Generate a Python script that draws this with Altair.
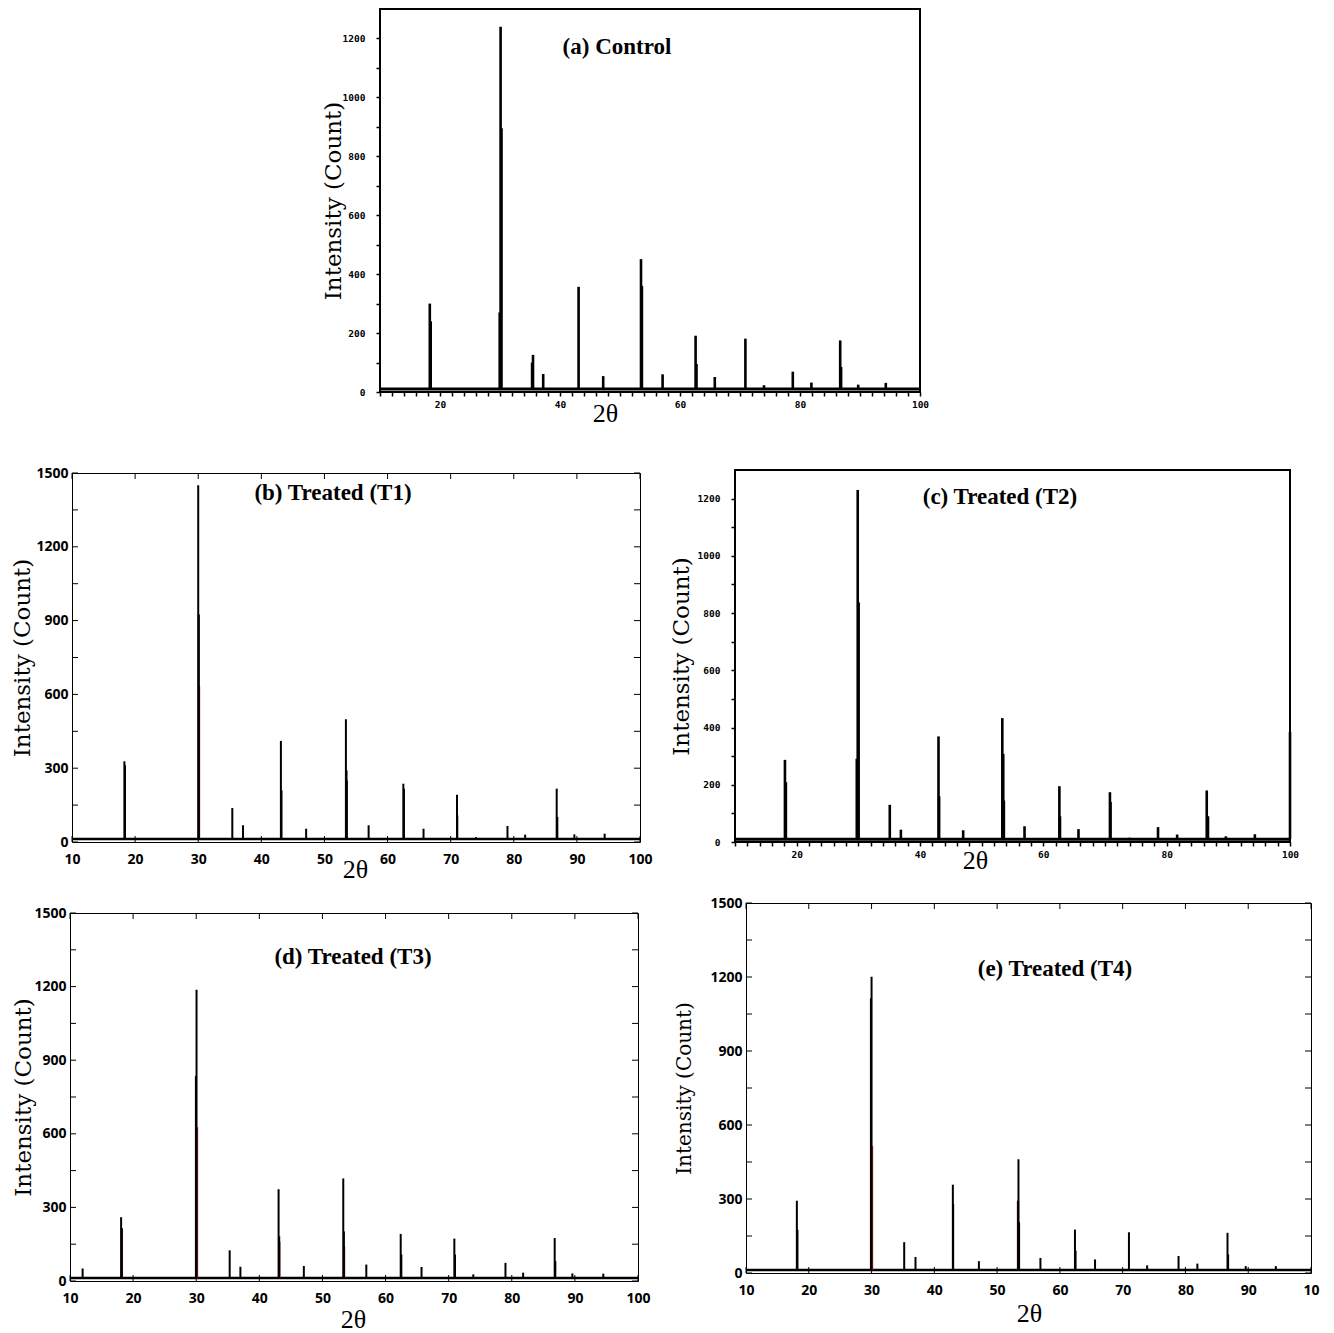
import altair as alt
import pandas as pd

SERIF = "Liberation Serif"
YSERIF = "DejaVu Serif"
SANS = "Open Sans"
MONO = "DejaVu Sans Mono"

TITLES = ["(a) Control", "(b) Treated (T1)", "(c) Treated (T2)", "(d) Treated (T3)", "(e) Treated (T4)"]
X_TITLE = "2θ"
Y_TITLE = "Intensity (Count)"

# ---------- (a) Control ----------
A_POS = [18.3, 30.1, 35.5, 37.2, 43.1, 47.2, 53.5, 57.1, 62.6, 65.8, 70.9, 74.0, 78.8, 81.9, 86.7, 89.7, 94.3]
A_INT = [300, 1240, 126, 61, 357, 54, 451, 60, 191, 51, 181, 23, 69, 32, 175, 25, 31]
A_POS2 = [18.45, 29.95, 30.25, 35.35, 53.65, 62.75, 86.85]
A_INT2 = [240, 270, 895, 100, 360, 95, 85]
A_BASE = 10

# ---------- (b) Treated T1 ----------
B_POS = [18.3, 30.0, 35.4, 37.1, 43.1, 47.1, 53.4, 57.0, 62.5, 65.7, 71.0, 74.0, 79.0, 81.8, 86.8, 89.6, 94.4]
B_INT = [328, 1450, 138, 68, 411, 54, 499, 68, 237, 54, 192, 20, 65, 30, 217, 31, 34]
B_POS2 = [18.4, 30.1, 43.2, 53.5, 53.55, 62.6, 71.05, 86.9]
B_INT2 = [312, 925, 210, 291, 250, 217, 108, 102]
B_RPOS = [30.15]
B_RINT = [633]
B_BASE = 12

# ---------- (c) Treated T2 ----------
C_POS = [18.1, 29.9, 35.1, 36.9, 43.0, 47.0, 53.35, 56.95, 62.6, 65.7, 70.8, 74.0, 78.6, 81.7, 86.5, 89.6, 94.3, 100.0]
C_INT = [287, 1230, 130, 43, 369, 41, 433, 55, 195, 45, 174, 15, 52, 26, 180, 20, 27, 384]
C_POS2 = [18.25, 29.75, 30.05, 43.1, 53.5, 53.6, 62.7, 70.9, 86.7]
C_INT2 = [209, 291, 837, 160, 308, 145, 90, 140, 90]
C_BASE = 10

# ---------- (d) Treated T3 ----------
D_POS = [12.0, 18.1, 30.05, 35.3, 37.0, 43.05, 47.05, 53.3, 56.95, 62.4, 65.7, 70.9, 73.9, 79.0, 81.8, 86.8, 89.6, 94.5]
D_INT = [51, 260, 1187, 125, 58, 374, 61, 418, 67, 192, 57, 173, 27, 74, 34, 175, 31, 30]
D_POS2 = [18.2, 29.95, 43.15, 53.4, 62.5, 71.0, 86.9]
D_INT2 = [216, 836, 182, 202, 108, 108, 81]
D_RPOS = [18.25, 30.15, 43.2, 53.45]
D_RINT = [210, 627, 160, 142]
D_BASE = 12

# ---------- (e) Treated T4 ----------
E_POS = [18.1, 30.0, 35.2, 37.0, 42.95, 47.1, 53.4, 56.9, 62.4, 65.6, 71.0, 73.9, 78.9, 81.9, 86.7, 89.6, 94.4]
E_INT = [293, 1201, 125, 65, 358, 48, 461, 61, 176, 55, 165, 31, 69, 38, 163, 28, 28]
E_POS2 = [29.9, 43.0, 53.35, 53.5, 18.2, 62.5, 86.8]
E_INT2 = [1114, 280, 293, 206, 175, 91, 75]
E_RPOS = [30.1, 53.3]
E_RINT = [515, 290]
E_BASE = 12

TICKS_X = list(range(10, 101, 10))
TICKS_Y = list(range(0, 1501, 150))

RED = "#b5342b"


def rules_df(pos, ints, base):
    return pd.DataFrame({"t": pos, "i": ints, "b": [base] * len(pos)})


def spacer(w, h):
    return alt.Chart(pd.DataFrame({"t": [0]})).mark_point(size=1, opacity=0).encode(
        x=alt.value(0), y=alt.value(0)).properties(width=w, height=h)


def panel(style, pos, ints, pos2, ints2, rpos, rints, base, ymax, W, H,
          title, tpos, xt, ytx, ytsize=23, last_label=None):
    xs = alt.Scale(domain=[10, 100], nice=False, zero=False)
    ys = alt.Scale(domain=[0, ymax], nice=False)
    common_x = dict(grid=False, domain=False, labelColor="black", labelOverlap=False,
                    labelFlush=False,
                    title=X_TITLE, titleFont=SERIF, titleFontSize=26, titleFontWeight="normal",
                    titleColor="black", titleX=xt[0], titleY=xt[1], titleBaseline="middle",
                    format="d")
    common_y = dict(grid=False, domain=False, labelColor="black", labelOverlap=False,
                    labelFlush=False,
                    title=Y_TITLE, titleFont=YSERIF, titleFontSize=ytsize, titleFontWeight="normal",
                    titleColor="black", titleX=ytx, titleBaseline="middle", format="d")
    if style == "a":
        xaxis = alt.Axis(values=list(range(10, 101, 2)),
                         labelExpr="datum.value % 20 == 0 && datum.value > 10 ? datum.label : ''",
                         tickSize=4, tickColor="black", tickWidth=1.5,
                         labelFont=MONO, labelFontWeight="bold", labelFontSize=9.5, labelPadding=3,
                         **common_x)
        yaxis = alt.Axis(values=list(range(0, 1201, 100)),
                         labelExpr="datum.value % 200 == 0 ? datum.label : ''",
                         tickSize=4, tickColor="black", tickWidth=1.5,
                         labelFont=MONO, labelFontWeight="bold", labelFontSize=9.5, labelPadding=11,
                         **common_y)
        lw, bw, fw = 2.6, 3.0, 2.0
    else:
        lab = "datum.label"
        if last_label:
            lab = "datum.value == 100 ? '" + last_label + "' : datum.label"
        xaxis = alt.Axis(values=TICKS_X, ticks=False, labelExpr=lab,
                         labelFont=SANS, labelFontWeight="bold", labelFontSize=14, labelPadding=10,
                         **common_x)
        yaxis = alt.Axis(values=list(range(0, ymax + 1, 300)), ticks=False,
                         labelFont=SANS, labelFontWeight="bold", labelFontSize=14, labelPadding=4,
                         **common_y)
        lw, bw, fw = 2.0, 2.4, 1.0

    X = alt.X("t:Q", scale=xs, axis=xaxis)
    Y = alt.Y("i:Q", scale=ys, axis=yaxis)

    layers = []
    layers.append(alt.Chart(pd.DataFrame({"t": [10, 100], "i": [base, base]})).mark_line(
        color="black", strokeWidth=bw).encode(x=X, y=Y))
    if rpos:
        layers.append(alt.Chart(rules_df(rpos, rints, base)).mark_rule(
            color=RED, strokeWidth=lw).encode(x=X, y=Y, y2="b:Q"))
    layers.append(alt.Chart(rules_df(pos, ints, base)).mark_rule(
        color="black", strokeWidth=lw).encode(x=X, y=Y, y2="b:Q"))
    layers.append(alt.Chart(rules_df(pos2, ints2, base)).mark_rule(
        color="black", strokeWidth=lw).encode(x=X, y=Y, y2="b:Q"))
    if style == "b":
        tx = pd.DataFrame({"t": TICKS_X})
        ty = pd.DataFrame({"i": [v for v in TICKS_Y if v <= ymax]})
        layers.append(alt.Chart(tx).mark_rule(color="black", strokeWidth=1).encode(
            x=X, y=alt.value(0), y2=alt.value(6)))
        layers.append(alt.Chart(tx).mark_rule(color="black", strokeWidth=1).encode(
            x=X, y=alt.value(H), y2=alt.value(H - 6)))
        layers.append(alt.Chart(ty).mark_rule(color="black", strokeWidth=1).encode(
            y=Y, x=alt.value(0), x2=alt.value(6)))
        layers.append(alt.Chart(ty).mark_rule(color="black", strokeWidth=1).encode(
            y=Y, x=alt.value(W), x2=alt.value(W - 6)))
    layers.append(alt.Chart(pd.DataFrame({"s": [title]})).mark_text(
        font=SERIF, fontWeight="bold", fontSize=23, color="black").encode(
        x=alt.value(tpos[0]), y=alt.value(tpos[1]), text="s:N"))
    return alt.layer(*layers).properties(
        width=W, height=H, view=alt.ViewBackground(stroke="black", strokeWidth=fw))


pA = panel("a", A_POS, A_INT, A_POS2, A_INT2, [], [], A_BASE, 1300, 540, 383,
           TITLES[0], (237, 38), (225, 21), -47)
pB = panel("b", B_POS, B_INT, B_POS2, B_INT2, B_RPOS, B_RINT, B_BASE, 1500, 568, 369,
           TITLES[1], (261, 20), (283, 27), -49.5)
pC = panel("a", C_POS, C_INT, C_POS2, C_INT2, [], [], C_BASE, 1300, 555, 372,
           TITLES[2], (265, 27), (240, 18), -54)
pD = panel("b", D_POS, D_INT, D_POS2, D_INT2, D_RPOS, D_RINT, D_BASE, 1500, 568, 368,
           TITLES[3], (283, 44), (283, 38), -47)
pE = panel("b", E_POS, E_INT, E_POS2, E_INT2, E_RPOS, E_RINT, E_BASE, 1500, 565, 370,
           TITLES[4], (309, 66), (283, 40), -62, ytsize=20, last_label="10")

row1 = alt.hconcat(spacer(311, 1), pA, spacing=0)
wB = alt.hconcat(spacer(1, 1), pB, spacing=0)
wD = alt.hconcat(spacer(1, 1), pD, spacing=0)
wC = alt.hconcat(spacer(1, 1), pC, spacing=0)
wE = alt.hconcat(spacer(5, 1), pE, spacing=0)
left_col = alt.vconcat(spacer(1, 36), wB, spacer(1, 20), wD, spacing=0)
right_col = alt.vconcat(spacer(1, 40), wC, spacer(1, 19), wE, spacing=0)
row2 = alt.hconcat(left_col, right_col, spacing=13)

chart = alt.vconcat(row1, row2, spacing=0).properties(
    padding={"left": 0, "top": 0, "right": 0, "bottom": 0}
).configure_view(stroke="transparent")

chart.save("out.html", embed_options={"renderer": "svg", "actions": False})
